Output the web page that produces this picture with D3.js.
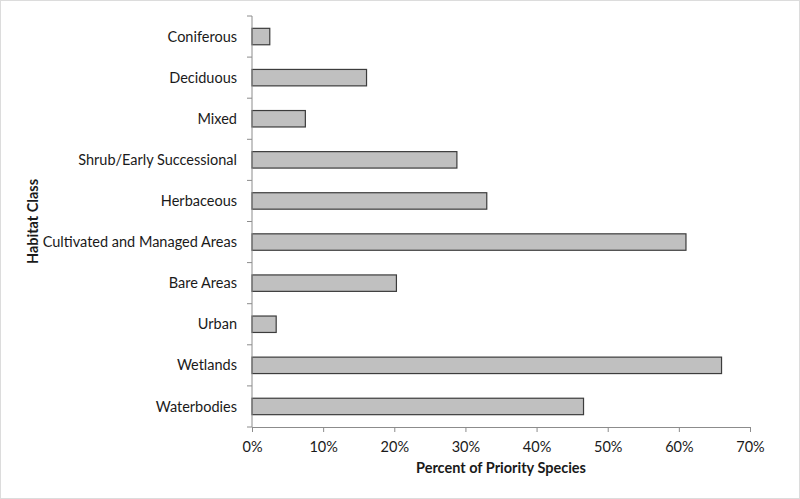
<!doctype html>
<html>
<head>
<meta charset="utf-8">
<style>
    body { margin: 0; background: white; }
    text { font-family: Lato, "Open Sans", sans-serif; fill: #1a1a1a; }
    .axis path, .axis line { stroke: #8c8c8c; }
</style>
</head>
<body>
<script src="https://cdn.jsdelivr.net/npm/d3@7/dist/d3.min.js"></script>
<script>
    const categories = ["Coniferous", "Deciduous", "Mixed", "Shrub/Early Successional", "Herbaceous",
        "Cultivated and Managed Areas", "Bare Areas", "Urban", "Wetlands", "Waterbodies"];
    const values = [2.5, 16.1, 7.5, 28.8, 33.0, 61.0, 20.3, 3.4, 66.0, 46.6];
    const xTicks = [0, 10, 20, 30, 40, 50, 60, 70];

    const width = 800, height = 499;
    const margin = {left: 252, right: 50, top: 16, bottom: 72};

    const svg = d3.select("body").append("svg")
        .attr("width", width)
        .attr("height", height);

    svg.append("rect")
        .attr("x", 0.5).attr("y", 0.5)
        .attr("width", width - 1).attr("height", height - 1)
        .attr("fill", "white")
        .attr("stroke", "#dcdcdc");

    const x = d3.scaleLinear().domain([0, 70]).range([margin.left, width - margin.right]);
    const y = d3.scaleBand().domain(categories)
        .range([margin.top, height - margin.bottom])
        .paddingInner(0.6).paddingOuter(0.3);

    // bars
    svg.append("g").selectAll("rect")
        .data(categories)
        .join("rect")
        .attr("x", x(0))
        .attr("y", d => y(d))
        .attr("width", (d, i) => x(values[i]) - x(0))
        .attr("height", y.bandwidth())
        .attr("fill", "#c0c0c0")
        .attr("stroke", "#3c3c3c")
        .attr("stroke-width", 1.2);

    // x axis
    const xAxis = svg.append("g")
        .attr("class", "axis")
        .attr("transform", `translate(0,${height - margin.bottom})`)
        .call(d3.axisBottom(x).tickValues(xTicks).tickSize(5).tickSizeOuter(0).tickFormat(d => d + "%"));
    xAxis.selectAll("text").attr("font-size", 14.5).attr("dy", "1.15em");

    // y axis: ticks between categories
    const step = y.step();
    const yEdges = d3.range(categories.length + 1).map(i => margin.top + i * step);
    const yAxis = svg.append("g").attr("class", "axis");
    yAxis.append("line")
        .attr("x1", x(0)).attr("x2", x(0))
        .attr("y1", margin.top).attr("y2", height - margin.bottom);
    yAxis.selectAll(".tk").data(yEdges).join("line")
        .attr("class", "tk")
        .attr("x1", x(0) - 5).attr("x2", x(0))
        .attr("y1", d => d).attr("y2", d => d);
    yAxis.selectAll("text").data(categories).join("text")
        .attr("x", x(0) - 15)
        .attr("y", d => y(d) + y.bandwidth() / 2)
        .attr("dy", "0.35em")
        .attr("text-anchor", "end")
        .attr("font-size", 14.5)
        .text(d => d);

    // axis titles
    svg.append("text")
        .attr("x", (x(0) + x(70)) / 2)
        .attr("y", 473)
        .attr("text-anchor", "middle")
        .attr("font-size", 14.5)
        .attr("font-weight", "bold")
        .text("Percent of Priority Species");

    svg.append("text")
        .attr("transform", `translate(38,${(margin.top + height - margin.bottom) / 2}) rotate(-90)`)
        .attr("text-anchor", "middle")
        .attr("font-size", 14.5)
        .attr("font-weight", "bold")
        .text("Habitat Class");
</script>
</body>
</html>
